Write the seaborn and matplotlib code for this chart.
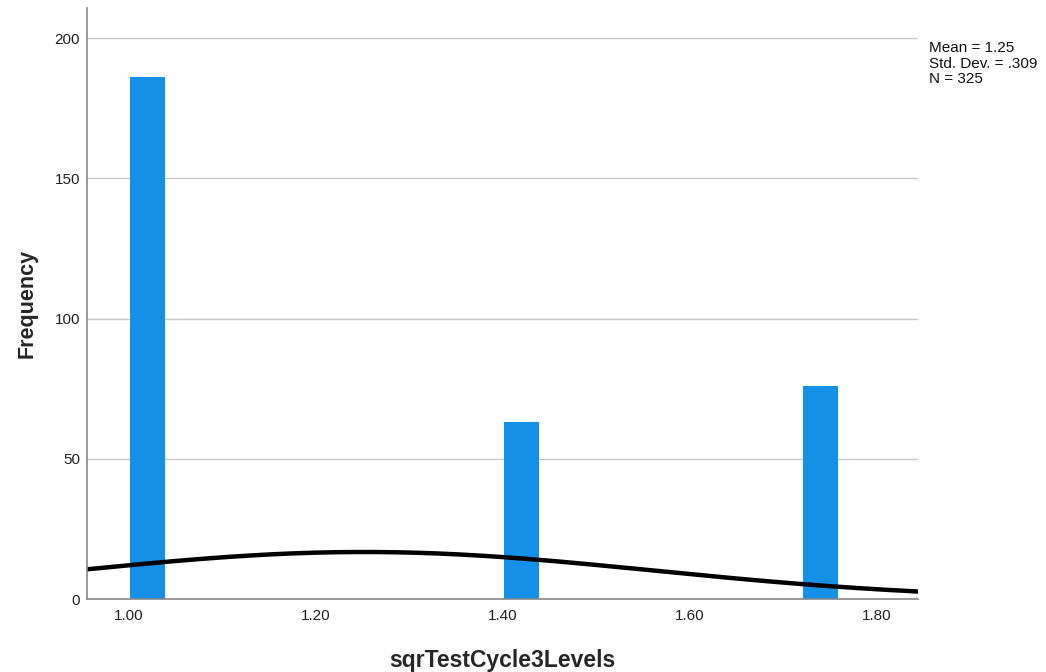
import numpy as np
import pandas as pd
import matplotlib
matplotlib.use("Agg")
import matplotlib.pyplot as plt
import seaborn as sns

# Observed values of sqrTestCycle3Levels and their frequencies
values = [1.0, 1.4142, 1.7321]
counts = [186, 63, 76]
x_ticks = [1.00, 1.20, 1.40, 1.60, 1.80]
y_ticks = [0, 50, 100, 150, 200]
bin_width = 0.04

df = pd.DataFrame({"sqrTestCycle3Levels": values, "count": counts})

sns.set_theme(style="white")
plt.rcParams["font.family"] = ["Liberation Sans", "DejaVu Sans"]

fig = plt.figure(figsize=(10.46, 6.72), dpi=100)
ax = fig.add_axes([0.0832, 0.1086, 0.7944, 0.8794])

ax.yaxis.grid(True, color="#c8c8c8", linewidth=1.0)
ax.set_axisbelow(True)

sns.histplot(data=df, x="sqrTestCycle3Levels", weights="count",
             binwidth=bin_width, binrange=(1.0, 1.76),
             color="#1490e6", alpha=1.0, linewidth=0, shrink=0.94, ax=ax)

# Summary statistics and the fitted normal curve
v = np.array(values)
c = np.array(counts)
n = c.sum()
mean = (v * c).sum() / n
sd = np.sqrt(((v - mean) ** 2 * c).sum() / (n - 1))
xs = np.linspace(0.955, 1.844, 400)
ys = n * bin_width * np.exp(-0.5 * ((xs - mean) / sd) ** 2) / (sd * np.sqrt(2 * np.pi))
sns.lineplot(x=xs, y=ys, color="black", linewidth=3.2, ax=ax)

ax.set_xlim(0.955, 1.844)
ax.set_ylim(0, 210.7)
ax.set_xticks(x_ticks)
ax.set_xticklabels([f"{t:.2f}" for t in x_ticks], fontsize=11, color="#222222")
ax.set_yticks(y_ticks)
ax.set_yticklabels([str(t) for t in y_ticks], fontsize=11, color="#222222")
ax.tick_params(axis="x", length=0, pad=7)
ax.tick_params(axis="y", length=0, pad=5)

ax.set_xlabel("sqrTestCycle3Levels", fontsize=16.5, fontweight="bold", labelpad=19)
ax.set_ylabel("Frequency", fontsize=15.5, fontweight="bold", labelpad=12)

for side in ["top", "right"]:
    ax.spines[side].set_visible(False)
for side in ["left", "bottom"]:
    ax.spines[side].set_color("#888888")
    ax.spines[side].set_linewidth(1.2)

sd_text = f"{sd:.3f}".lstrip("0")
fig.text(0.888, 0.939, f"Mean = {mean:.2f}\nStd. Dev. = {sd_text}\nN = {n}",
         fontsize=11, va="top", ha="left", linespacing=1.15, color="#111111")

fig.savefig("out.png", dpi=100, facecolor="white")
